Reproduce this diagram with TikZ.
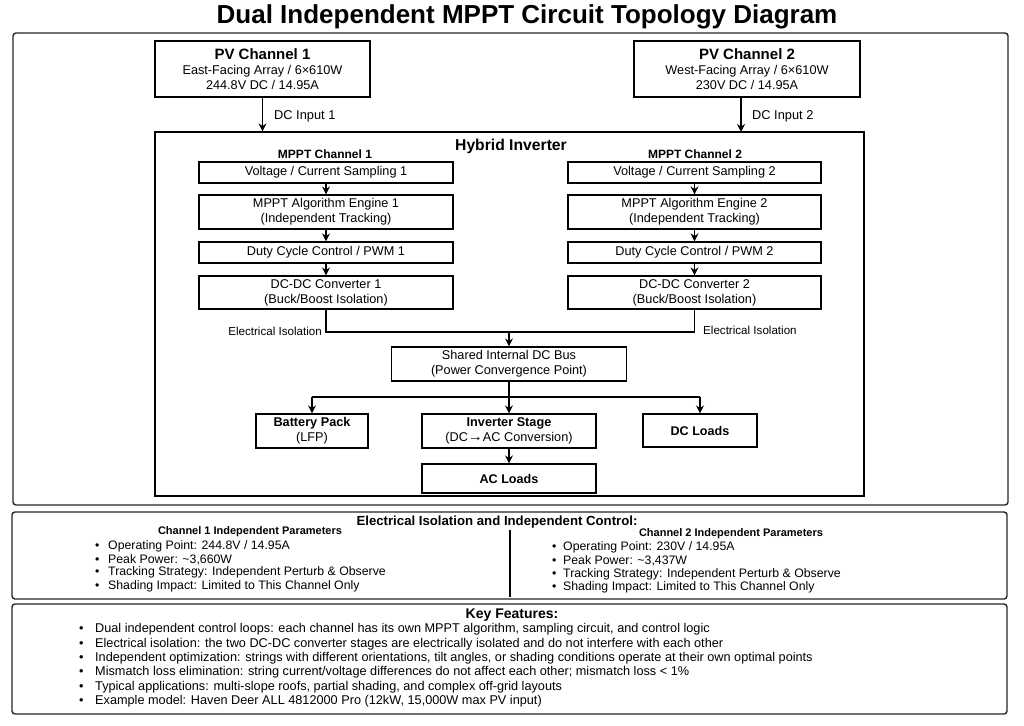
\documentclass[tikz,border=0pt]{standalone}
\usepackage{fontspec}
\setmainfont{Liberation Sans}
\usetikzlibrary{arrows.meta}
\begin{document}
\begin{tikzpicture}[x=1pt,y=-1pt,
 box/.style={draw=black, line width=1.2pt, align=center, inner sep=0pt, fill=white, font=\fontsize{12.7}{15}\selectfont},
 lbl/.style={inner sep=0pt, font=\fontsize{12.8}{14}\selectfont},
 small/.style={inner sep=0pt, font=\fontsize{11.6}{13}\selectfont},
 hdr/.style={inner sep=0pt, font=\fontsize{12}{14}\selectfont\bfseries},
 blt/.style={inner sep=0pt, anchor=west, font=\fontsize{12.3}{14}\selectfont},
 kfb/.style={inner sep=0pt, anchor=west, font=\fontsize{12.7}{14}\selectfont},
 arr/.style={line width=1.8pt, -{Stealth[length=8pt,width=8pt]}},
 ln/.style={line width=1.8pt},
 panel/.style={draw=black!85, line width=1.4pt, rounded corners=3pt},
]
\useasboundingbox (0,0) rectangle (1024,725);
\fill[white] (0,0) rectangle (1024,725);

% title
\node[inner sep=0pt, font=\fontsize{26}{29}\selectfont\bfseries] (title) at (527,17) {Dual Independent MPPT Circuit Topology Diagram};

% frames
\draw[panel] (13,33) rectangle (1008,505);
\draw[panel] (12,512) rectangle (1007,599);
\draw[panel] (12,604) rectangle (1007,714);

% PV channels
\node[box, minimum width=215pt, minimum height=56pt, font=\fontsize{12.7}{15}\selectfont] (pv1) at (262.5,69)
 {{\fontsize{15}{17}\selectfont\bfseries PV Channel 1}\\East-Facing Array / 6×610W\\244.8V DC / 14.95A};
\node[box, minimum width=226pt, minimum height=56pt, font=\fontsize{12.7}{15}\selectfont] (pv2) at (747,69)
 {{\fontsize{15}{17}\selectfont\bfseries PV Channel 2}\\West-Facing Array / 6×610W\\230V DC / 14.95A};

% hybrid inverter
\node[draw=black, line width=1.2pt, inner sep=0pt, minimum width=709pt, minimum height=364pt] (hyb) at (509.5,314) {};
\node[inner sep=0pt, font=\fontsize{15.7}{18}\selectfont\bfseries] (hybt) at (511,146) {Hybrid Inverter};

\draw[arr] (pv1.south) -- (pv1.south |- hyb.north);
\draw[arr] (pv2.south -| 741,0) -- (741,132);
\node[lbl, anchor=west] (dc1) at (274,116) {DC Input 1};
\node[lbl, anchor=west] (dc2) at (752,116) {DC Input 2};

% MPPT channel 1
\node[hdr] (m1) at (325,154) {MPPT Channel 1};
\node[box, minimum width=254pt, minimum height=21pt] (s1) at (326,172.5) {Voltage / Current Sampling 1};
\node[box, minimum width=254pt, minimum height=34pt] (e1) at (326,212) {MPPT Algorithm Engine 1\\(Independent Tracking)};
\node[box, minimum width=254pt, minimum height=21pt] (d1) at (326,252.5) {Duty Cycle Control / PWM 1};
\node[box, minimum width=254pt, minimum height=33pt] (c1) at (326,292.5) {DC-DC Converter 1\\(Buck/Boost Isolation)};

% MPPT channel 2
\node[hdr] (m2) at (695,154) {MPPT Channel 2};
\node[box, minimum width=253pt, minimum height=21pt] (s2) at (694.5,172.5) {Voltage / Current Sampling 2};
\node[box, minimum width=253pt, minimum height=34pt] (e2) at (694.5,212) {MPPT Algorithm Engine 2\\(Independent Tracking)};
\node[box, minimum width=253pt, minimum height=21pt] (d2) at (694.5,252.5) {Duty Cycle Control / PWM 2};
\node[box, minimum width=253pt, minimum height=33pt] (c2) at (694.5,292.5) {DC-DC Converter 2\\(Buck/Boost Isolation)};

\foreach \a/\b in {s1/e1,e1/d1,d1/c1,s2/e2,e2/d2,d2/c2}
  \draw[arr] (\a.south) -- (\b.north);

% merge
\draw[ln] (c1.south) -- ++(0,22) coordinate (jl) -- (jl -| c2.south) -- (c2.south);
\node[small, anchor=east] (iso1) at (322,331) {Electrical Isolation};
\node[small, anchor=west] (iso2) at (703,330) {Electrical Isolation};

% bus
\node[box, minimum width=235pt, minimum height=34pt] (bus) at (509,364) {Shared Internal DC Bus\\(Power Convergence Point)};
\draw[arr] (bus.north |- jl) -- (bus.north);

% outputs
\node[box, minimum width=112pt, minimum height=34pt] (bat) at (312,431) {{\bfseries Battery Pack}\\(LFP)};
\node[box, minimum width=174pt, minimum height=34pt] (inv) at (509,431) {{\bfseries Inverter Stage}\\(DC{\fontsize{15}{15}\selectfont→}AC Conversion)};
\node[box, minimum width=114pt, minimum height=33pt, font=\fontsize{12.6}{15}\selectfont\bfseries] (dcl) at (700,430.5) {DC Loads};
\node[box, minimum width=174pt, minimum height=29pt, font=\fontsize{12.6}{15}\selectfont\bfseries] (acl) at (509,478.5) {AC Loads};

\draw[ln] (bus.south) -- ++(0,15) coordinate (hb);
\draw[ln] (hb -| bat.north) -- (hb -| dcl.north);
\draw[arr] (hb -| bat.north) -- (bat.north);
\draw[arr] (hb -| dcl.north) -- (dcl.north);
\draw[arr] (hb -| inv.north) -- (inv.north);
\draw[arr] (inv.south) -- (acl.north);

% panel 2
\node[inner sep=0pt, font=\fontsize{13.2}{16}\selectfont\bfseries] (p2t) at (497,522) {Electrical Isolation and Independent Control:};
\draw[line width=1.2pt] (510,530) -- (510,597);
\node[inner sep=0pt, font=\fontsize{11}{13}\selectfont\bfseries] (h1) at (250,532) {Channel 1 Independent Parameters};
\node[inner sep=0pt, font=\fontsize{11}{13}\selectfont\bfseries] (h2) at (731,534) {Channel 2 Independent Parameters};
\foreach \t [count=\i] in {{Operating Point: 244.8V / 14.95A},{Peak Power: \char`\~3,660W},{Tracking Strategy: Independent Perturb \& Observe},{Shading Impact: Limited to This Channel Only}}
  \node[blt] (la\i) at (95,{546+13.4*(\i-1)}) {\makebox[13pt][l]{•}\t};
\foreach \t [count=\i] in {{Operating Point: 230V / 14.95A},{Peak Power: \char`\~3,437W},{Tracking Strategy: Independent Perturb \& Observe},{Shading Impact: Limited to This Channel Only}}
  \node[blt] (lb\i) at (552,{547+13.6*(\i-1)}) {\makebox[11pt][l]{•}\t};

% panel 3
\node[inner sep=0pt, font=\fontsize{14}{16}\selectfont\bfseries] (p3t) at (512,615) {Key Features:};
\foreach \t [count=\i] in {{Dual independent control loops: each channel has its own MPPT algorithm, sampling circuit, and control logic},{Electrical isolation: the two DC-DC converter stages are electrically isolated and do not interfere with each other},{Independent optimization: strings with different orientations, tilt angles, or shading conditions operate at their own optimal points},{Mismatch loss elimination: string current/voltage differences do not affect each other; mismatch loss < 1\%},{Typical applications: multi-slope roofs, partial shading, and complex off-grid layouts},{Example model: Haven Deer ALL 4812000 Pro (12kW, 15,000W max PV input)}}
  \node[kfb] (kf\i) at (79,{629.5+14.4*(\i-1)}) {\makebox[16pt][l]{•}\t};
\end{tikzpicture}
\end{document}
